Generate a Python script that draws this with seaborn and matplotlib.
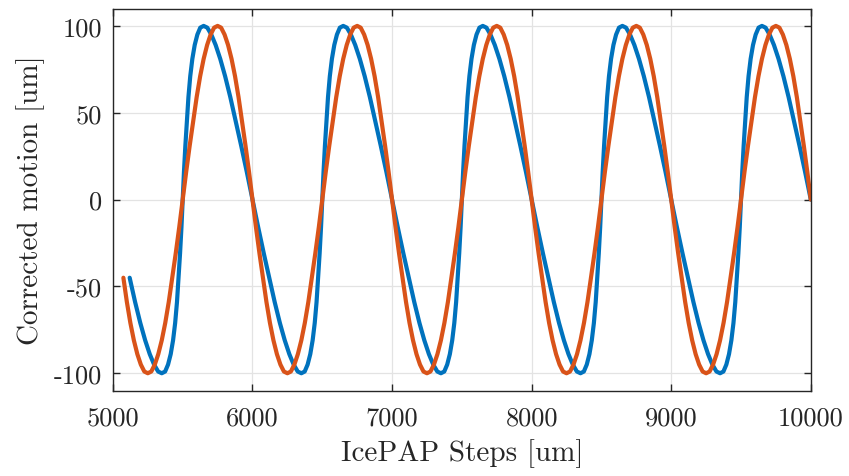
import numpy as np
import pandas as pd
import seaborn as sns
import matplotlib.pyplot as plt

# IcePAP steps [um] (commanded, sampled every 25 um)
icepap_steps = np.arange(5075, 10001, 25)

# corrected motion [um]
motion_orange = [
    -45, -59, -71, -81, -89, -95, -99, -100, -99, -95, -89, -81, -71, -59, -45, -31, -16,
    0, 16, 31, 45, 59, 71, 81, 89, 95, 99, 100, 99, 95, 89, 81, 71, 59, 45, 31, 16,
    0, -16, -31, -45, -59, -71, -81, -89, -95, -99, -100, -99, -95, -89, -81, -71, -59, -45, -31, -16,
    0, 16, 31, 45, 59, 71, 81, 89, 95, 99, 100, 99, 95, 89, 81, 71, 59, 45, 31, 16,
    0, -16, -31, -45, -59, -71, -81, -89, -95, -99, -100, -99, -95, -89, -81, -71, -59, -45, -31, -16,
    0, 16, 31, 45, 59, 71, 81, 89, 95, 99, 100, 99, 95, 89, 81, 71, 59, 45, 31, 16,
    0, -16, -31, -45, -59, -71, -81, -89, -95, -99, -100, -99, -95, -89, -81, -71, -59, -45, -31, -16,
    0, 16, 31, 45, 59, 71, 81, 89, 95, 99, 100, 99, 95, 89, 81, 71, 59, 45, 31, 16,
    0, -16, -31, -45, -59, -71, -81, -89, -95, -99, -100, -99, -95, -89, -81, -71, -59, -45, -31, -16,
    0, 16, 31, 45, 59, 71, 81, 89, 95, 99, 100, 99, 95, 89, 81, 71, 59, 45, 31, 16,
    0,
]

# blue curve: positions [um] and corrected motion [um]
blue_x = [
    5120, 5159, 5196, 5231, 5264, 5295, 5324, 5350, 5374, 5395, 5414, 5431, 5446, 5459, 5470, 5481, 5491,
    5500, 5509, 5519, 5530, 5541, 5554, 5569, 5586, 5605, 5626, 5650, 5676, 5705, 5736, 5769, 5804, 5841, 5880, 5919, 5959,
    6000, 6041, 6081, 6120, 6159, 6196, 6231, 6264, 6295, 6324, 6350, 6374, 6395, 6414, 6431, 6446, 6459, 6470, 6481, 6491,
    6500, 6509, 6519, 6530, 6541, 6554, 6569, 6586, 6605, 6626, 6650, 6676, 6705, 6736, 6769, 6804, 6841, 6880, 6919, 6959,
    7000, 7041, 7081, 7120, 7159, 7196, 7231, 7264, 7295, 7324, 7350, 7374, 7395, 7414, 7431, 7446, 7459, 7470, 7481, 7491,
    7500, 7509, 7519, 7530, 7541, 7554, 7569, 7586, 7605, 7626, 7650, 7676, 7705, 7736, 7769, 7804, 7841, 7880, 7919, 7959,
    8000, 8041, 8081, 8120, 8159, 8196, 8231, 8264, 8295, 8324, 8350, 8374, 8395, 8414, 8431, 8446, 8459, 8470, 8481, 8491,
    8500, 8509, 8519, 8530, 8541, 8554, 8569, 8586, 8605, 8626, 8650, 8676, 8705, 8736, 8769, 8804, 8841, 8880, 8919, 8959,
    9000, 9041, 9081, 9120, 9159, 9196, 9231, 9264, 9295, 9324, 9350, 9374, 9395, 9414, 9431, 9446, 9459, 9470, 9481, 9491,
    9500, 9509, 9519, 9530, 9541, 9554, 9569, 9586, 9605, 9626, 9650, 9676, 9705, 9736, 9769, 9804, 9841, 9880, 9919, 9959,
    10000,
]
motion_blue = list(motion_orange)

x_ticks = [5000, 6000, 7000, 8000, 9000, 10000]
y_ticks = [-100, -50, 0, 50, 100]

sns.set_style("ticks")
plt.rcParams['font.family'] = 'serif'
plt.rcParams['font.serif'] = ['cmr10', 'DejaVu Serif']
plt.rcParams['mathtext.fontset'] = 'cm'
plt.rcParams['axes.unicode_minus'] = False

df_blue = pd.DataFrame({"x": blue_x, "y": motion_blue})
df_orange = pd.DataFrame({"x": icepap_steps, "y": motion_orange})

fig = plt.figure(figsize=(8.49, 4.77), dpi=100)
ax = fig.add_axes([0.133, 0.179, 0.822, 0.801])

sns.lineplot(data=df_blue, x="x", y="y", ax=ax, color="#0072BD", linewidth=3.0,
             sort=False, estimator=None)
sns.lineplot(data=df_orange, x="x", y="y", ax=ax, color="#D95319", linewidth=3.0,
             sort=False, estimator=None)

ax.set_xlim(5000, 10000)
ax.set_ylim(-110, 110)
ax.set_xticks(x_ticks)
ax.set_yticks(y_ticks)
ax.grid(True, color="#e3e3e3", linewidth=0.9)
ax.set_axisbelow(True)
for s in ax.spines.values():
    s.set_visible(True)
    s.set_color("#262626")
    s.set_linewidth(1.0)
ax.tick_params(direction="in", top=True, right=True, length=5, width=1.0,
               color="#262626", labelsize=19)
ax.tick_params(axis="x", pad=11)
ax.tick_params(axis="y", pad=8)
ax.set_xlabel("IcePAP Steps [um]", fontsize=21, labelpad=6)
ax.set_ylabel("Corrected motion [um]", fontsize=21, labelpad=6)

fig.savefig("out.png", dpi=100)
